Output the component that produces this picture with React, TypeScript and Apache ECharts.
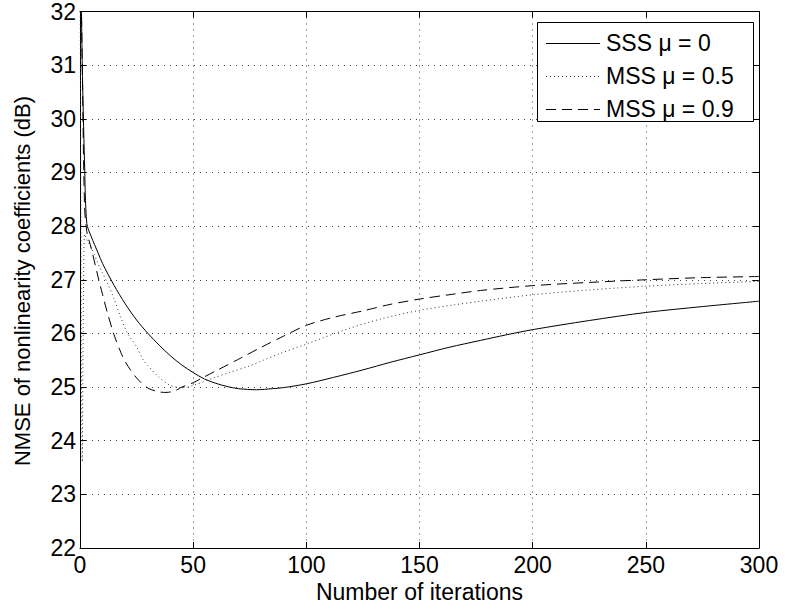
import React, { useEffect, useRef } from "react";
import * as echarts from "echarts";

// Data
const sssIter = [0, 1, 2, 3, 5, 8, 10, 15, 20, 25, 30, 35, 40, 45, 50, 55, 60, 65, 70, 78, 85, 90, 100, 112, 125, 137, 150, 163, 177, 188, 200, 225, 250, 275, 300];
const sssVals = [34, 31, 29.2, 28.05, 27.8, 27.5, 27.3, 26.9, 26.55, 26.25, 26.0, 25.78, 25.58, 25.41, 25.27, 25.15, 25.07, 25.01, 24.97, 24.95, 24.97, 24.99, 25.06, 25.18, 25.32, 25.46, 25.6, 25.74, 25.87, 25.97, 26.07, 26.24, 26.39, 26.5, 26.6];

const mss05Iter = [0, 1, 2, 3, 5, 8, 10, 12, 15, 18, 21, 25, 28, 30, 35, 40, 45, 50, 59, 66, 74, 81, 88, 100, 118, 133, 150, 165, 177, 200, 225, 250, 275, 300];
const mss05Vals = [34, 23.6, 27.85, 27.75, 27.6, 27.3, 27.12, 26.95, 26.65, 26.3, 26.0, 25.75, 25.5, 25.4, 25.18, 25.03, 24.99, 25.03, 25.17, 25.27, 25.38, 25.5, 25.62, 25.8, 26.08, 26.27, 26.43, 26.53, 26.6, 26.72, 26.81, 26.88, 26.93, 26.97];

const mss09Iter = [0, 1, 2, 3, 5, 8, 10, 12, 15, 18, 20, 25, 30, 35, 38, 42, 45, 50, 54, 60, 71, 80, 90, 100, 112, 125, 137, 150, 163, 177, 200, 225, 250, 275, 300];
const mss09Vals = [34, 31, 28.4, 27.9, 27.58, 27.05, 26.72, 26.4, 25.98, 25.65, 25.47, 25.17, 24.98, 24.91, 24.9, 24.93, 25.0, 25.08, 25.17, 25.3, 25.54, 25.74, 25.95, 26.15, 26.3, 26.42, 26.54, 26.64, 26.72, 26.8, 26.89, 26.95, 27.0, 27.04, 27.06];

const seriesNames = ["SSS \u03bc = 0", "MSS \u03bc = 0.5", "MSS \u03bc = 0.9"];
const xTicks = { min: 0, max: 300, interval: 50 };
const yTicks = { min: 22, max: 32, interval: 1 };
const xTitle = "Number of iterations";
const yTitle = "NMSE of nonlinearity coefficients (dB)";

const FONT = "Liberation Sans, Arial, sans-serif";

const lineStyles = [
  { color: "#000", width: 1, type: "solid" as any, dash: null as number[] | null },
  { color: "#333", width: 1, type: [1, 3] as any, dash: [1, 3] },
  { color: "#000", width: 1, type: [10, 6] as any, dash: [10, 6] },
];

function pairs(xs: number[], ys: number[]) {
  return xs.map((x, i) => [x, ys[i]]);
}

export default function App() {
  const ref = useRef<HTMLDivElement>(null);
  useEffect(() => {
    if (!ref.current) return;
    const chart = echarts.init(ref.current, undefined, { renderer: "svg" });
    const axisLine = { show: true, onZero: false, lineStyle: { color: "#000", width: 1 } };
    const splitLine = { show: true, lineStyle: { color: "#444", width: 1, type: [1, 5] as any } };
    const tick = { show: true, inside: true, length: 6, lineStyle: { color: "#000" } };

    // legend box drawn with graphic elements
    const lgLeft = 537, lgTop = 22, lgW = 216, lgH = 99, rowH = 33;
    const graphicEls: any[] = [
      {
        type: "rect",
        shape: { x: lgLeft + 0.5, y: lgTop + 0.5, width: lgW, height: lgH },
        style: { fill: "#fff", stroke: "#000", lineWidth: 1 },
        z: 100,
      },
      {
        type: "text",
        x: 22,
        y: 281,
        rotation: Math.PI / 2,
        style: {
          text: yTitle,
          font: `22px ${FONT}`,
          fill: "#000",
          align: "center",
          verticalAlign: "middle",
        },
        z: 100,
      },
    ];
    seriesNames.forEach((name, i) => {
      const cy = lgTop + 21 + i * rowH;
      const ls = lineStyles[i];
      graphicEls.push({
        type: "line",
        shape: { x1: lgLeft + 9, y1: cy + 0.5, x2: lgLeft + 63, y2: cy + 0.5 },
        style: { stroke: ls.color, lineWidth: 1, lineDash: ls.dash || undefined },
        z: 101,
      });
      graphicEls.push({
        type: "text",
        x: lgLeft + 69,
        y: cy,
        style: {
          text: name,
          font: `23px ${FONT}`,
          fill: "#000",
          align: "left",
          verticalAlign: "middle",
        },
        z: 101,
      });
    });

    chart.setOption({
      animation: false,
      backgroundColor: "#fff",
      grid: { left: 80, right: 26, top: 8, bottom: 64, containLabel: false },
      graphic: graphicEls,
      xAxis: [
        {
          type: "value",
          ...xTicks,
          position: "bottom",
          name: xTitle,
          nameLocation: "middle",
          nameGap: 28,
          nameTextStyle: { fontFamily: FONT, fontSize: 23, color: "#000" },
          axisLine,
          axisTick: tick,
          axisLabel: { fontFamily: FONT, fontSize: 23, color: "#000", margin: 5 },
          splitLine,
        },
        {
          type: "value",
          ...xTicks,
          position: "top",
          axisLine,
          axisTick: tick,
          axisLabel: { show: false },
          splitLine: { show: false },
        },
      ],
      yAxis: [
        {
          type: "value",
          ...yTicks,
          position: "left",
          axisLine,
          axisTick: tick,
          axisLabel: { fontFamily: FONT, fontSize: 23, color: "#000", margin: 4 },
          splitLine,
        },
        {
          type: "value",
          ...yTicks,
          position: "right",
          axisLine,
          axisTick: tick,
          axisLabel: { show: false },
          splitLine: { show: false },
        },
      ],
      series: [
        { name: seriesNames[0], data: pairs(sssIter, sssVals) },
        { name: seriesNames[1], data: pairs(mss05Iter, mss05Vals) },
        { name: seriesNames[2], data: pairs(mss09Iter, mss09Vals) },
      ].map((s, i) => ({
        ...s,
        type: "line",
        smooth: 0.3,
        symbol: "none",
        clip: true,
        lineStyle: { color: lineStyles[i].color, width: 1, type: lineStyles[i].type },
        itemStyle: { color: lineStyles[i].color },
      })),
    });
    return () => chart.dispose();
  }, []);
  return (
    <div
      ref={ref}
      style={{ position: "fixed", left: 0, top: 0, width: 785, height: 612, background: "#fff" }}
    />
  );
}
